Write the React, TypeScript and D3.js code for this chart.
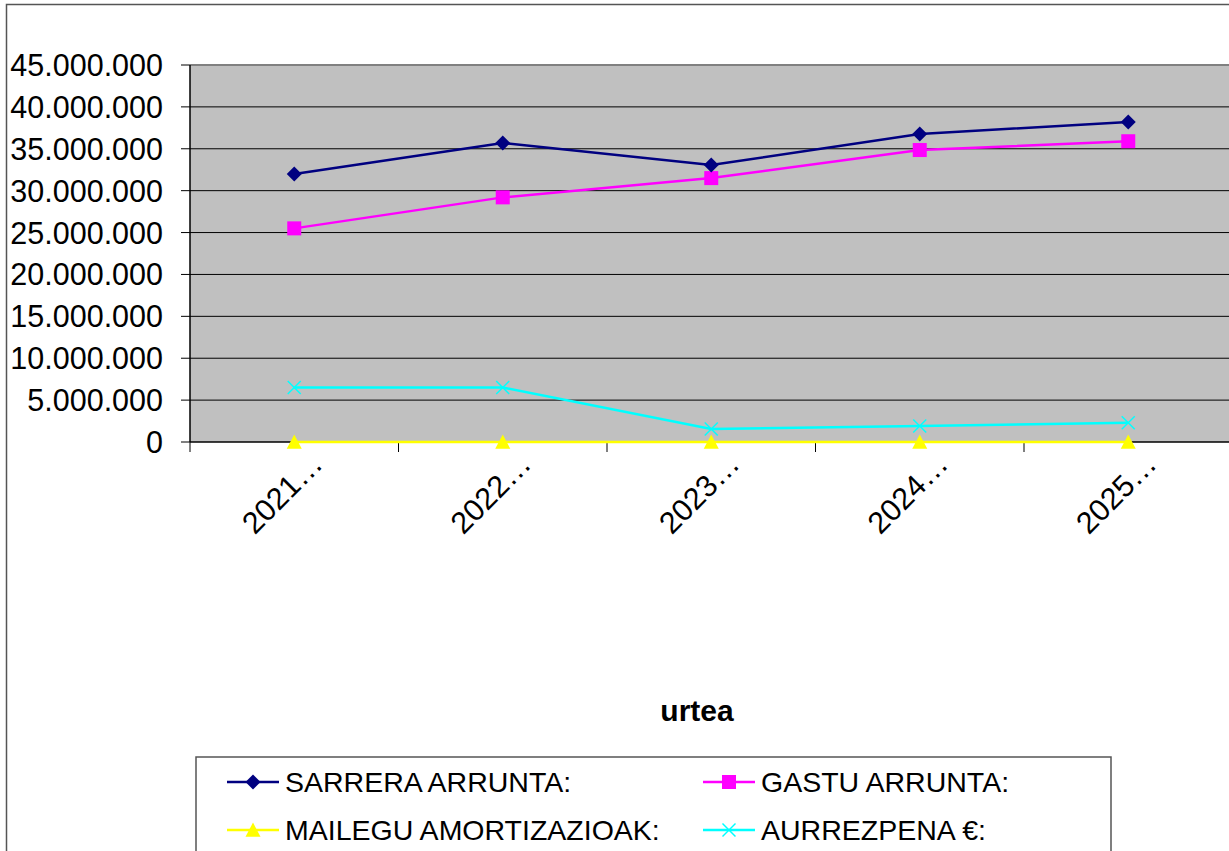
import React from "react";
import * as d3 from "d3";

const categories = ["2021…", "2022…", "2023…", "2024…", "2025…"];
const sarrera = [32000000, 35700000, 33060000, 36760000, 38200000];
const gastu = [25500000, 29200000, 31500000, 34850000, 35900000];
const mailegu = [0, 0, 0, 0, 0];
const aurrezpena = [6500000, 6500000, 1560000, 1900000, 2300000];
const yTicks = [0, 5000000, 10000000, 15000000, 20000000, 25000000, 30000000, 35000000, 40000000, 45000000];

const seriesNames = ["SARRERA ARRUNTA:", "GASTU ARRUNTA:", "MAILEGU AMORTIZAZIOAK:", "AURREZPENA €:"];
const seriesColors = ["#000080", "#FF00FF", "#FFFF00", "#00FFFF"];
const seriesMarkers = ["diamond", "square", "triangle", "x"];

const FONT = "Liberation Sans, Arial, sans-serif";

function fmt(v: number) {
  if (v === 0) return "0";
  return d3.format(",")(v).replace(/,/g, ".");
}

function Marker({ type, x, y, color }: { type: string; x: number; y: number; color: string }) {
  if (type === "diamond") {
    const s = 7.5;
    return <polygon points={`${x},${y - s} ${x + s},${y} ${x},${y + s} ${x - s},${y}`} fill={color} />;
  }
  if (type === "square") {
    const s = 7;
    return <rect x={x - s} y={y - s} width={2 * s} height={2 * s} fill={color} />;
  }
  if (type === "triangle") {
    const s = 7.5;
    return <polygon points={`${x},${y - s} ${x + s},${y + s * 0.9} ${x - s},${y + s * 0.9}`} fill={color} />;
  }
  const s = 6.5;
  return (
    <g stroke={color} strokeWidth={1.5}>
      <line x1={x - s} y1={y - s} x2={x + s} y2={y + s} />
      <line x1={x - s} y1={y + s} x2={x + s} y2={y - s} />
    </g>
  );
}

export default function App() {
  const W = 1229, H = 851;
  const left = 190, top = 65, bottom = 442;
  const band = 208.5;
  const right = left + band * categories.length;
  const x = d3.scaleBand<string>().domain(categories).range([left, right]).padding(0);
  const y = d3.scaleLinear().domain([0, 45000000]).range([bottom, top]);
  const line = d3.line<number>().x((_, i) => x(categories[i])! + x.bandwidth() / 2).y((d) => y(d));
  const data = [sarrera, gastu, mailegu, aurrezpena];
  const order = [2, 3, 1, 0];

  return (
    <svg width={W} height={H} style={{ position: "absolute", left: 0, top: 0 }} fontFamily={FONT}>
      <rect x={0} y={0} width={W} height={H} fill="#fff" />
      <rect x={6.5} y={4.5} width={W + 10} height={H + 10} fill="none" stroke="#555" strokeWidth={1.5} />
      <rect x={left} y={top} width={right - left} height={bottom - top} fill="#C0C0C0" />
      <line x1={left} x2={right} y1={top} y2={top} stroke="#808080" strokeWidth={2} />
      {yTicks.map((t) => (
        <g key={t}>
          {t > 0 && t < 45000000 && <line x1={left} x2={right} y1={y(t)} y2={y(t)} stroke="#000" strokeWidth={1} />}
          <line x1={181} x2={left} y1={y(t)} y2={y(t)} stroke="#000" strokeWidth={1} />
          <text x={163} y={y(t)} dy="0.36em" textAnchor="end" fontSize={30.5} fill="#000">{fmt(t)}</text>
        </g>
      ))}
      <line x1={left} x2={left} y1={top} y2={bottom} stroke="#000" strokeWidth={1.5} />
      <line x1={left} x2={right} y1={bottom} y2={bottom} stroke="#000" strokeWidth={1.5} />
      {categories.map((c, i) => (
        <line key={"t" + i} x1={x(c)!} x2={x(c)!} y1={bottom} y2={bottom + 10} stroke="#000" strokeWidth={1} />
      ))}
      {categories.map((c) => {
        const cx = x(c)! + x.bandwidth() / 2;
        return (
          <text key={"l" + c} transform={`translate(${cx + 30},${bottom + 24}) rotate(-45)`} textAnchor="end" fontSize={30.5} fill="#000">{c}</text>
        );
      })}
      {order.map((si) => (
        <g key={"s" + si}>
          <path d={line(data[si])!} fill="none" stroke={seriesColors[si]} strokeWidth={2.5} />
          {data[si].map((v, i) => (
            <Marker key={i} type={seriesMarkers[si]} x={x(categories[i])! + x.bandwidth() / 2} y={y(v)} color={seriesColors[si]} />
          ))}
        </g>
      ))}
      <text x={697} y={721} textAnchor="middle" fontSize={30} fontWeight="bold" fill="#000">urtea</text>
      <rect x={196} y={757} width={915} height={110} fill="#fff" stroke="#555" strokeWidth={1.5} />
      {seriesNames.map((n, i) => {
        const col = i % 2, row = Math.floor(i / 2);
        const lx = col === 0 ? 227 : 703;
        const cy = row === 0 ? 782 : 830;
        return (
          <g key={"lg" + i}>
            <line x1={lx} x2={lx + 52} y1={cy} y2={cy} stroke={seriesColors[i]} strokeWidth={2.5} />
            <Marker type={seriesMarkers[i]} x={lx + 26} y={cy} color={seriesColors[i]} />
            <text x={lx + 58} y={cy} dy="0.36em" fontSize={28.5} fill="#000">{n}</text>
          </g>
        );
      })}
    </svg>
  );
}
